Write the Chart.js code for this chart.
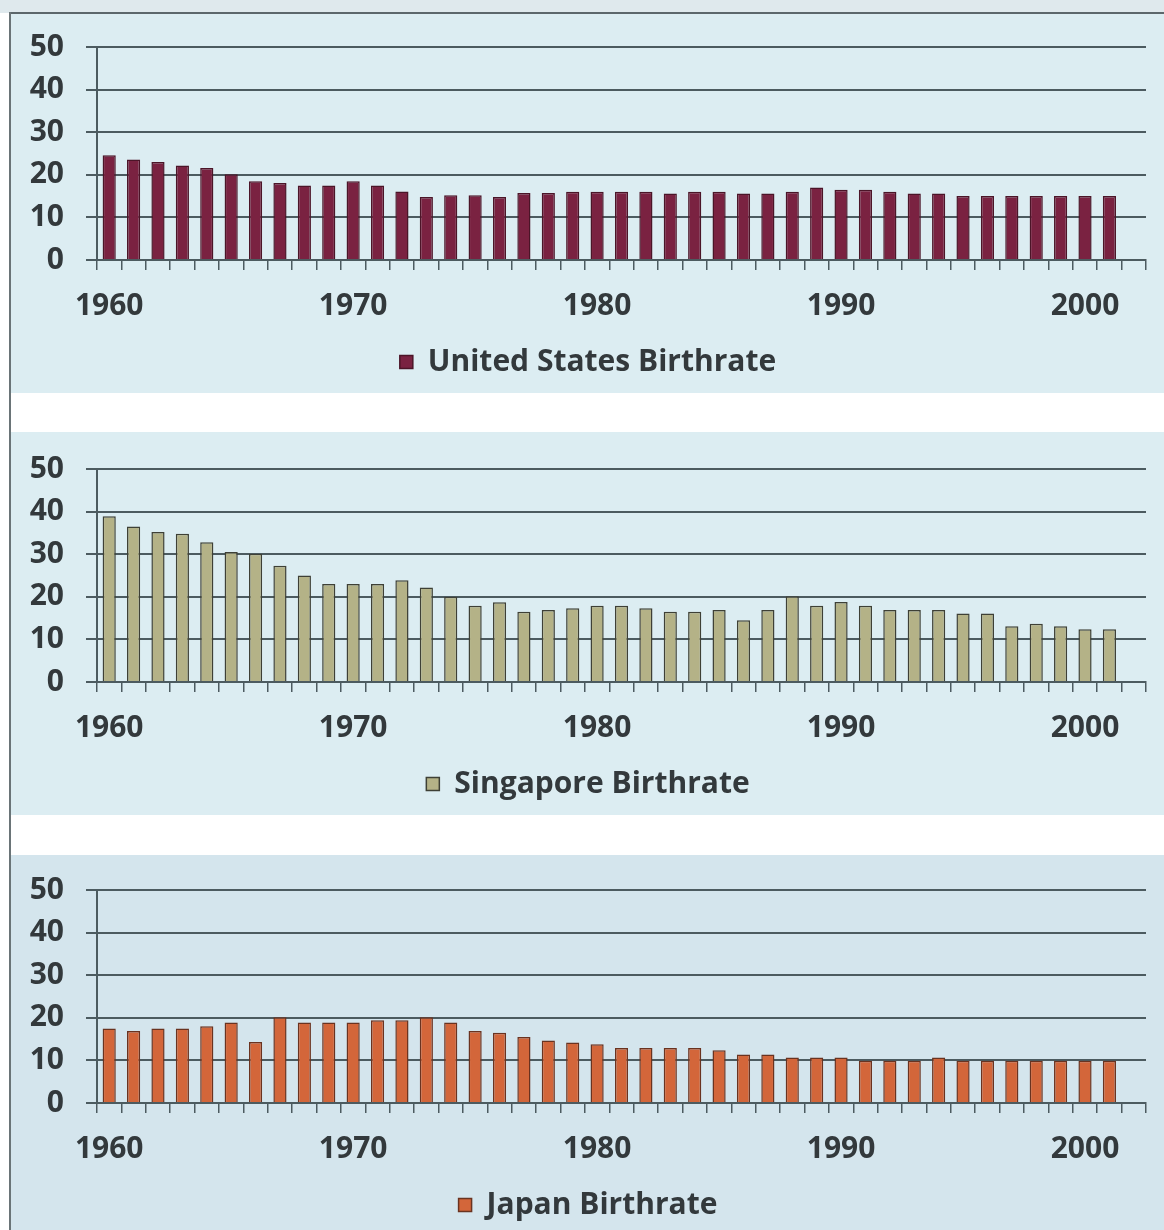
<!DOCTYPE html>
<html>
<head>
<meta charset="utf-8">
<script src="https://cdn.jsdelivr.net/npm/chart.js@4/dist/chart.umd.min.js"></script>
<style>
  html, body { margin: 0; padding: 0; }
  body { width: 1164px; height: 1230px; position: relative; overflow: hidden; background: #ffffff; font-family: "Open Sans", Lato, sans-serif; }
  .abs { position: absolute; }
  canvas { position: absolute; }
</style>
</head>
<body>
<div class="abs" style="left:0;top:0;width:1164px;height:13px;background:#dfe9ed;"></div>
<div class="abs" style="left:10px;top:13px;width:1154px;height:380px;background:#dcedf2;"></div>
<div class="abs" style="left:10px;top:432px;width:1154px;height:383px;background:#dcedf2;"></div>
<div class="abs" style="left:10px;top:855px;width:1154px;height:375px;background:#d4e5ed;"></div>
<div class="abs" style="left:9px;top:12px;width:1155px;height:2px;background:#5c676b;"></div>
<div class="abs" style="left:9px;top:12px;width:2px;height:1218px;background:#6a7477;"></div>

<canvas id="c1" width="1154" height="380" style="left:10px;top:13px;"></canvas>
<canvas id="c2" width="1154" height="380" style="left:10px;top:435px;"></canvas>
<canvas id="c3" width="1154" height="380" style="left:10px;top:856px;"></canvas>

<script>
// Years on the category axis (last slot is empty in the original)
const years = ['1960','1961','1962','1963','1964','1965','1966','1967','1968','1969',
               '1970','1971','1972','1973','1974','1975','1976','1977','1978','1979',
               '1980','1981','1982','1983','1984','1985','1986','1987','1988','1989',
               '1990','1991','1992','1993','1994','1995','1996','1997','1998','1999',
               '2000','2001','2002'];

const usBirthrate = [24.6,23.6,23.0,22.2,21.6,20.1,18.5,18.1,17.5,17.5,
                     18.5,17.5,16.1,14.8,15.2,15.2,14.8,15.7,15.7,16.0,
                     16.0,16.0,16.0,15.6,16.0,16.0,15.6,15.6,16.0,17.0,
                     16.5,16.5,16.0,15.6,15.6,15.0,15.0,15.0,15.0,15.0,
                     15.0,15.0,null];

const singaporeBirthrate = [38.9,36.5,35.2,34.8,32.8,30.5,30.1,27.3,25.0,23.0,
                            23.0,23.0,23.9,22.2,20.0,17.9,18.7,16.5,16.9,17.3,
                            17.9,17.9,17.3,16.5,16.5,16.9,14.5,16.9,20.1,17.9,
                            18.8,17.9,16.9,16.9,16.9,16.1,16.1,13.1,13.7,13.1,
                            12.4,12.4,null];

const japanBirthrate = [17.5,16.9,17.5,17.5,18.0,18.9,14.3,20.1,18.9,18.9,
                        18.9,19.4,19.4,20.1,18.9,16.9,16.5,15.5,14.7,14.2,
                        13.8,12.9,12.9,12.9,12.9,12.4,11.4,11.4,10.7,10.7,
                        10.7,9.9,9.9,9.9,10.7,9.9,9.9,9.9,9.9,9.9,
                        9.9,9.9,null];

const yTicks = [0, 10, 20, 30, 40, 50];

const panels = [
  { id: 'c1', label: 'United States Birthrate', data: usBirthrate, fill: '#7a2241', stroke: '#4b1528' },
  { id: 'c2', label: 'Singapore Birthrate', data: singaporeBirthrate, fill: '#b4b287', stroke: '#3e4036' },
  { id: 'c3', label: 'Japan Birthrate', data: japanBirthrate, fill: '#d3663a', stroke: '#6a3320' }
];

const textColor = '#33393c';
const lineColor = '#4c5b60';
const tickFont = { family: 'Open Sans', size: 30, weight: 'bold' };

panels.forEach(p => {
  new Chart(document.getElementById(p.id), {
    type: 'bar',
    data: {
      labels: years,
      datasets: [{
        label: p.label,
        data: p.data,
        backgroundColor: p.fill,
        borderColor: p.stroke,
        borderWidth: 1.5,
        categoryPercentage: 0.9,
        barPercentage: 0.6
      }]
    },
    options: {
      responsive: false,
      animation: false,
      devicePixelRatio: 1,
      layout: { padding: { top: 34, right: 18, left: 20, bottom: 6 } },
      plugins: {
        tooltip: { enabled: false },
        legend: {
          position: 'bottom',
          labels: {
            color: textColor,
            font: tickFont,
            boxWidth: 13,
            boxHeight: 13,
            padding: 17
          }
        }
      },
      scales: {
        x: {
          offset: true,
          grid: {
            display: true,
            drawOnChartArea: false,
            drawTicks: true,
            tickLength: 10,
            color: lineColor,
            lineWidth: 1.5,
            offset: true
          },
          border: { display: true, color: lineColor, width: 2 },
          ticks: {
            autoSkip: false,
            maxRotation: 0,
            minRotation: 0,
            padding: 18,
            color: textColor,
            font: tickFont,
            callback: function(v, i) { return (+years[i]) % 10 === 0 ? years[i] : ''; }
          },
          afterFit: s => { s.height = 70; }
        },
        y: {
          min: 0,
          max: 50,
          afterBuildTicks: s => { s.ticks = yTicks.map(v => ({ value: v })); },
          grid: {
            color: lineColor,
            lineWidth: 2,
            drawTicks: true,
            tickLength: 11
          },
          border: { display: true, color: lineColor, width: 2 },
          ticks: {
            padding: 22,
            color: textColor,
            font: tickFont
          },
          afterFit: s => { s.width = 67; s.paddingTop = 0; s.paddingBottom = 0; }
        }
      }
    }
  });
});
</script>
</body>
</html>
